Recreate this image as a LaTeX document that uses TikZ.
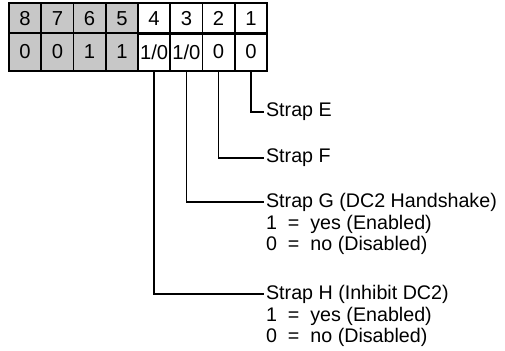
\documentclass[tikz,border=0pt]{standalone}
\usepackage{fontspec}
\setmainfont{Liberation Sans}
\usetikzlibrary{positioning}
\definecolor{HalfTone}{gray}{0.78}
\tikzset{
  cell/.style={rectangle,draw,line width=1pt,inner sep=0pt,
               minimum width=0.645cm,font=\fontsize{11.5}{12}\selectfont},
  topcell/.style={cell,minimum height=0.62cm},
  botcell/.style={cell,minimum height=0.76cm},
  shaded/.style={fill=HalfTone},
  strap/.style={inner sep=1pt,anchor=west,font=\fontsize{11.2}{11.8}\selectfont},
  opts/.style={inner sep=1pt,anchor=north west,align=left,
               font=\fontsize{11.2}{11.8}\selectfont},
  wire/.style={line width=0.8pt},
}

\begin{document}
\begin{tikzpicture}[x=0.02cm,y=-0.02cm]
  \useasboundingbox (0,0) rectangle (505,351);

  % switch numbers
  \node[topcell,shaded] (t8) at (25.1,18.5){8};
  \node[topcell,shaded] (t7) at (57.4,18.5){7};
  \node[topcell,shaded] (t6) at (89.6,18.5){6};
  \node[topcell,shaded] (t5) at (121.9,18.5){5};
  \node[topcell]        (t4) at (154.1,18.5){4};
  \node[topcell]        (t3) at (186.4,18.5){3};
  \node[topcell]        (t2) at (218.6,18.5){2};
  \node[topcell]        (t1) at (250.9,18.5){1};

  % settings
  \node[botcell,shaded] (b8) at (25.1,52){0};
  \node[botcell,shaded] (b7) at (57.4,52){0};
  \node[botcell,shaded] (b6) at (89.6,52){1};
  \node[botcell,shaded] (b5) at (121.9,52){1};
  \node[botcell]        (b4) at (154.1,52){1/0};
  \node[botcell]        (b3) at (186.4,52){1/0};
  \node[botcell]        (b2) at (218.6,52){0};
  \node[botcell]        (b1) at (250.9,52){0};

  % strap labels
  \node[strap] (strapE) at (264,112){Strap E};
  \node[strap] (strapF) at (264,158){Strap F};
  \node[strap] (strapG) at (264,202){Strap G (DC2 Handshake)};
  \node[opts]  (optG) at (strapG.south west)
    {1\ \ =\ \ yes (Enabled)\\0\ \ =\ \ no (Disabled)};
  \node[strap] (strapH) at (264,294){Strap H (Inhibit DC2)};
  \node[opts]  (optH) at (strapH.south west)
    {1\ \ =\ \ yes (Enabled)\\0\ \ =\ \ no (Disabled)};

  \draw[wire] (b1.south) |- (strapE.west);
  \draw[wire] (b2.south) |- (strapF.west);
  \draw[wire] (b3.south) |- (strapG.west);
  \draw[wire] (b4.south) |- (strapH.west);

\end{tikzpicture}
\end{document}
